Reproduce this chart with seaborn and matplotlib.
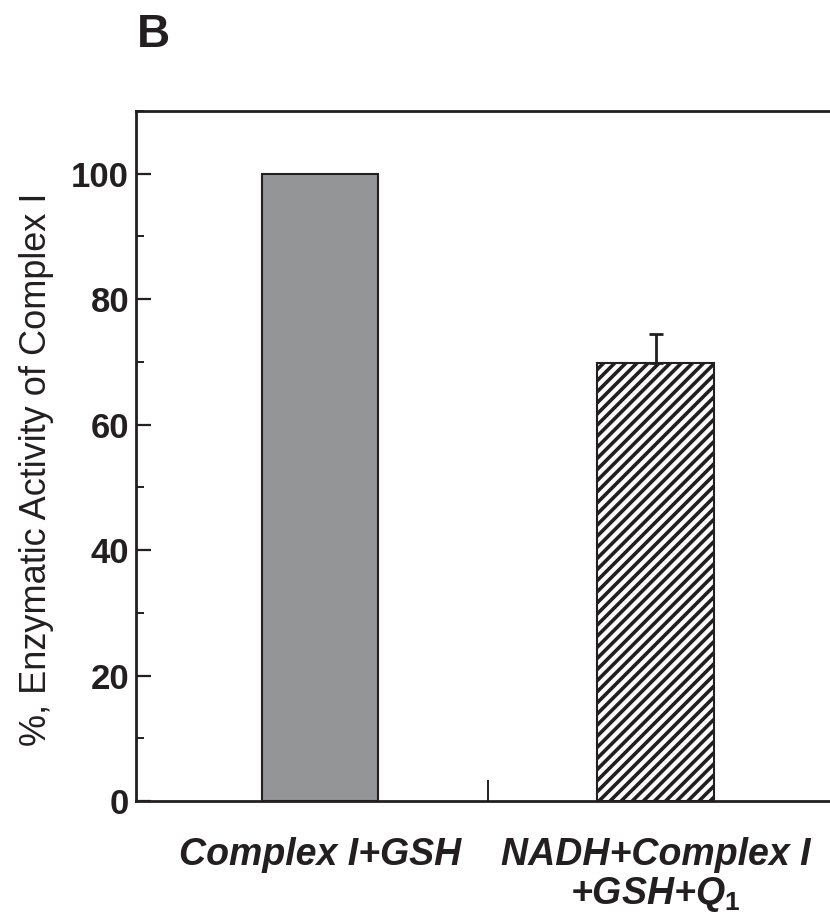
import numpy as np
import pandas as pd
import seaborn as sns
import matplotlib.pyplot as plt
from matplotlib.ticker import MultipleLocator, FixedLocator

# data
conditions = ["Complex I+GSH", "NADH+Complex I\n+GSH+$\\mathit{Q}_{\\mathrm{1}}$"]
activity = [100.0, 69.8]
activity_err = [0.0, 4.6]
bar_colors = ["#939598", "white"]
bar_hatches = ["", "///"]

sns.set_style("ticks")
plt.rcParams["font.family"] = ["Liberation Sans", "DejaVu Sans"]
plt.rcParams["mathtext.fontset"] = "custom"
plt.rcParams["mathtext.rm"] = "Liberation Sans:bold"
plt.rcParams["mathtext.it"] = "Liberation Sans:italic:bold"
plt.rcParams["hatch.linewidth"] = 2.6
plt.rcParams["hatch.color"] = "#231f20"

ink = "#231f20"

df = pd.DataFrame({"condition": conditions, "activity": activity})

fig = plt.figure(figsize=(8.3, 9.14), dpi=100)
ax = fig.add_axes([0.1639, 0.1236, 0.8475, 0.755])

sns.barplot(data=df, x="condition", y="activity", hue="condition",
            palette=bar_colors, width=0.346, errorbar=None,
            edgecolor=ink, linewidth=1.5, legend=False, ax=ax)

for patch, h in zip(ax.patches, bar_hatches):
    patch.set_hatch(h)

# upward-only error bars
pos = np.arange(len(conditions))
for x, y, e in zip(pos, activity, activity_err):
    if e > 0:
        ax.errorbar(x, y, yerr=[[0], [e]], fmt="none", ecolor=ink,
                    elinewidth=2, capsize=4.7, capthick=2, zorder=3)

ax.set_xlim(-0.548, 1.548)
ax.set_ylim(0, 110)
ax.yaxis.set_major_locator(MultipleLocator(20))
ax.yaxis.set_minor_locator(MultipleLocator(10))
ax.xaxis.set_minor_locator(FixedLocator([0.5]))

for side in ["left", "right", "top", "bottom"]:
    ax.spines[side].set_linewidth(2)
    ax.spines[side].set_color(ink)

ax.tick_params(axis="y", which="major", direction="in", length=11, width=1.6,
               labelsize=25, pad=5, colors=ink)
ax.tick_params(axis="y", which="minor", direction="in", length=6, width=1.4,
               colors=ink)
ax.tick_params(axis="y", which="both", right=False)
ax.tick_params(axis="x", which="major", length=0, pad=26, labelsize=27,
               colors=ink)
ax.tick_params(axis="x", which="minor", direction="in", length=15, width=1.4,
               colors=ink)
for lab in ax.get_yticklabels():
    lab.set_fontweight("bold")
for lab in ax.get_xticklabels():
    lab.set_fontweight("bold")
    lab.set_fontstyle("italic")
    lab.set_linespacing(1.06)

ax.set_xlabel("")
ax.set_ylabel("%, Enzymatic Activity of Complex I", fontsize=26,
              color=ink, va="center")
ax.yaxis.set_label_coords(-0.141, 0.48)

fig.text(0.165, 0.986, "B", fontsize=33, fontweight="bold", va="top",
         ha="left", color=ink)

fig.savefig("out.png", dpi=100)
